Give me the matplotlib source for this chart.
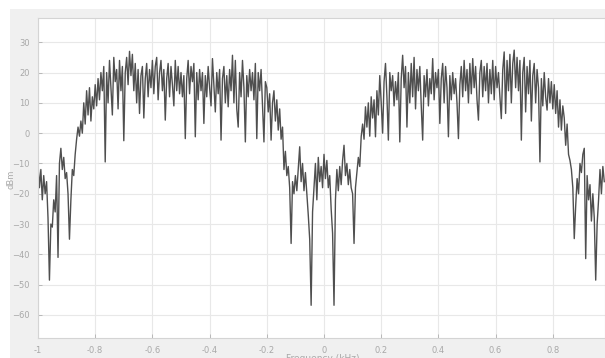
#!/usr/bin/env python

import numpy as np
import matplotlib
matplotlib.use("Agg")
import matplotlib.pyplot as plt
from matplotlib.patches import Rectangle

# --- spectrum, one value every 0.005 kHz from -1.0 to 0.98
dbm = [
    # -1.00 .. -0.905
    -10, -18, -12, -22, -14, -20, -16, -28, -48.5, -30, -31, -22, -26, -14, -41, -10, -5, -12, -8, -15,
    # -0.90 .. -0.805
    -13, -20, -35, -22, -12, -14, -7, -2, 2, -1, 4, 0, 10, 3, 14, 6, 15, 4, 12, 8,
    # -0.80 .. -0.705
    16, 9, 18, 11, 20, 14, 22, -9.5, 20, 10, 24, 15, 6, 25, 17, 21, 8, 24, 14, 22,
    # -0.70 .. -0.605
    -2.5, 20, 25, 16, 27, 19, 26, 14, 23, 10, 21, 6.5, 19, 22, 5, 18, 23, 12, 21, 15,
    # -0.60 .. -0.505
    24, 13, 22, 25, 11, 20, 24, 14, 21, 4.3, 18, 23, 12, 22, 16, 9, 24, 14, 22, 13,
    # -0.50 .. -0.405
    20, 12, 19, -1.8, 18, 24, 13, 22, 17, 23, -1.2, 20, 11, 21, 14, 20, 3.2, 19, 12, 22,
    # -0.40 .. -0.305
    15, 9, 24.6, 16, 7, 20, 13, 21, -2.3, 18, 22, 10, 19, 8.7, 21, 14, 25.7, 10, 24, 8,
    # -0.30 .. -0.205
    2, 20, 12, 24, 15, -2.9, 19, 12, 21, 14, 20, 11, 23, -1.8, 20, 14, 21, 9, -2.9, 17,
    # -0.20 .. -0.105
    15, 7, 13, -2.3, 10, 14, 4, 11, 1, 8, -2, 2, -12, -6, -14, -11, -18, -36.4, -16, -20,
    # -0.10 .. -0.005
    -14, -19, -12, -4.5, -16, -10, -19, -13, -20, -27, -35, -56.8, -26, -18, -10, -22, -8, -16, -11, -18,
    # 0.00 .. 0.095
    -7, -15, -9, -18, -14, -25, -33, -56.8, -22, -12, -19, -11, -17, -9, -4, -14, -10, -17, -12, -18,
    # 0.10 .. 0.195
    -20, -36.4, -18, -13, -8, -11, -1.2, 3, -2, 8.7, 2, 10, -1, 12, 5, 11, -1.2, 14, 6, 19,
    # 0.20 .. 0.295
    10, 0, 17, 23, 12, -2.3, 20, 14, 19, 9, 17, 11, 20, -2.9, 18, 25.7, 15, 22, 2, 20,
    # 0.30 .. 0.395
    10, 23, 12, 25, 8, 21, 14, 22, 9, -2.3, 19, 12, 21, 9, 18, 13, 24.6, 11, 20, 15,
    # 0.40 .. 0.495
    21, 3.2, 18, 23, 10, 22, 15, -1.2, 19, 11, 20, 13, 18, 10, -1.8, 16, 22, 12, 24, 14,
    # 0.50 .. 0.595
    21, 10, 23, 13, 24.6, 15, 22, 11, 4.3, 20, 24, 12, 22, 14, 23, 10, 21, 13, 24, 11,
    # 0.60 .. 0.695
    22, 15, 20, 12, 4.8, 21, 26.8, 6.5, 24, 14, 26, 10, 23, 27.4, 15, 25, 14, 24, -2.3, 20,
    # 0.70 .. 0.795
    25, 7, 22, 13, 24, 4, 19, 23, 10, 21, 15, -9.5, 18, 9, 20, 12, 7.6, 18, 10, 17,
    # 0.80 .. 0.895
    8, 16, 6.5, 14, 2, 11, 1, 9, 5, -4, 3, -7, -9, -12, -18, -34.8, -24, -15, -20, -10,
    # 0.90 .. 0.98
    -13, -7, -5, -41.4, -14, -22, -17, -29, -20, -28, -48.5, -30, -22, -12, -20, -11, -16,
]
freq = np.linspace(-1.0, 0.98, len(dbm))

xticks = [-1, -0.8, -0.6, -0.4, -0.2, 0, 0.2, 0.4, 0.6, 0.8]
xticklabels = ["-1", "-0.8", "-0.6", "-0.4", "-0.2", "0", "0.2", "0.4", "0.6", "0.8"]
yticks = [-60, -50, -40, -30, -20, -10, 0, 10, 20, 30]

W, H = 605, 358
fig = plt.figure(figsize=(W / 100, H / 100), dpi=100)
fig.patch.set_facecolor("white")

# light grey panel behind the axes (MATLAB figure window)
panel = Rectangle((10 / W, 0), 1 - 10 / W, 1 - 9 / H,
                  transform=fig.transFigure, facecolor="#f0f0f0",
                  edgecolor="none", zorder=-10)
fig.add_artist(panel)

ax = fig.add_axes([38 / W, 1 - 338 / H, (W - 38) / W, (338 - 18) / H])
ax.set_zorder(1)
ax.set_facecolor("white")
ax.plot(freq, dbm, color="#4f4f4f", linewidth=1.0)

ax.set_xlim(-1.0, 0.9825)
ax.set_ylim(-67.6, 38)
ax.set_xticks(xticks)
ax.set_xticklabels(xticklabels)
ax.set_yticks(yticks)

ax.grid(True, color="#e8e8e8", linewidth=0.8)
ax.set_axisbelow(True)
for s in ax.spines.values():
    s.set_color("#d4d4d4")
    s.set_linewidth(0.8)
ax.tick_params(direction="in", length=3, width=0.6, colors="#b0b0b0",
               labelcolor="#a8a8a8", labelsize=6, pad=6)

fig.text(11 / W, 1 - 179 / H, "dBm", rotation=90, ha="center", va="center",
         fontsize=6, color="#a8a8a8", zorder=2)
fig.text(323 / W, 1 - 354 / H, "Frequency (kHz)", ha="center", va="top",
         fontsize=6.5, color="#a8a8a8", zorder=2)

plt.savefig("out.png", dpi=100)
